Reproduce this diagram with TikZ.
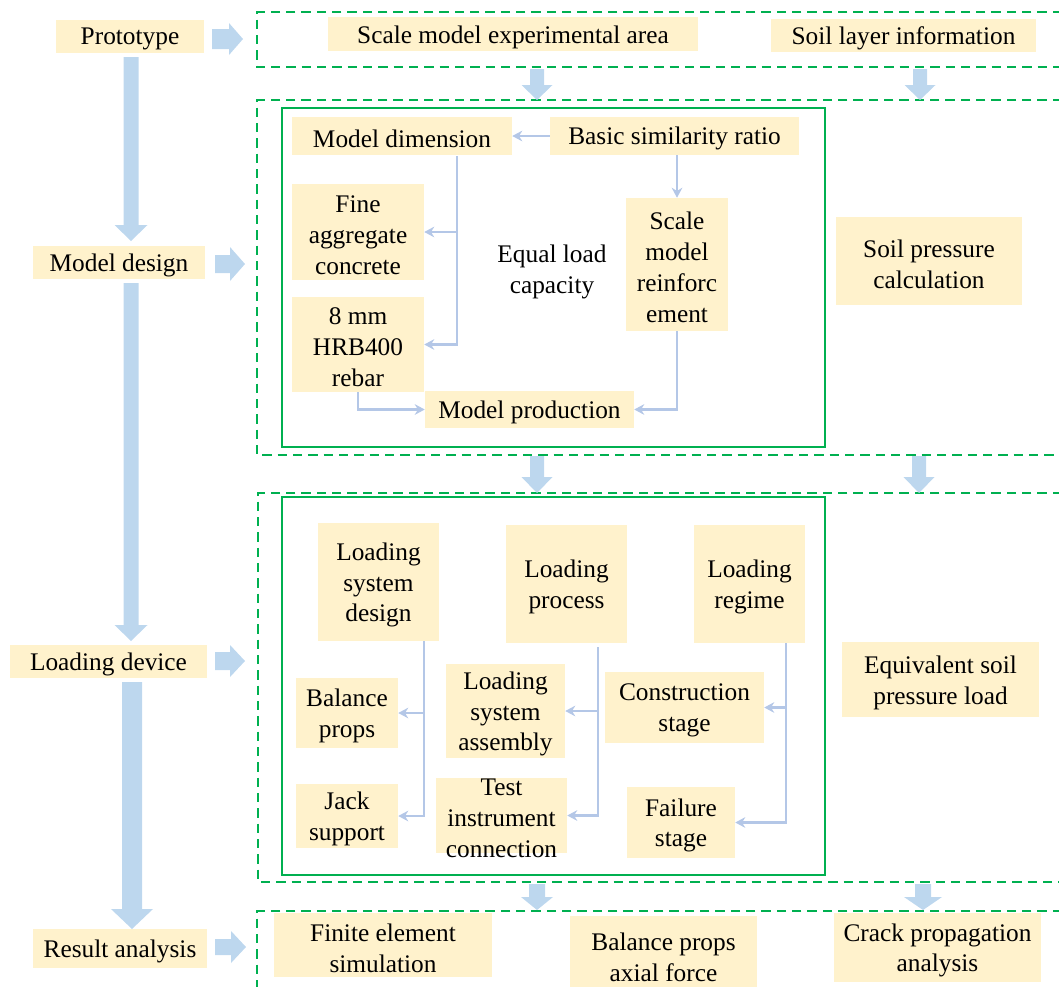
\documentclass[tikz,border=0pt]{standalone}
\usepackage{fontspec}
\setmainfont{Liberation Serif}
\usetikzlibrary{arrows.meta}
\definecolor{boxfill}{HTML}{FFF2CC}
\definecolor{blkcol}{HTML}{BDD7EE}
\definecolor{conncol}{HTML}{B4C7E7}
\definecolor{grn}{HTML}{00B050}
\newcommand\mybox[6]{\node[box, minimum width={(#4-#2)*0.75pt}, minimum height={(#5-#3)*0.75pt}] (#1) at ({(#2+#4)/2},{(#3+#5)/2}) {};
  \node[boxtext] (#1-t) at ([yshift=-2.2pt]#1.center) {#6};}
\newcommand\blkdown[6]{\fill[blkcol] ({#1-#4},#2) -- ({#1+#4},#2) -- ({#1+#4},{#3-#6}) -- ({#1+#5},{#3-#6}) -- (#1,#3) -- ({#1-#5},{#3-#6}) -- ({#1-#4},{#3-#6}) -- cycle;}
\newcommand\blkright[6]{\fill[blkcol] (#1,{#3-#4}) -- ({#2-#6},{#3-#4}) -- ({#2-#6},{#3-#5}) -- (#2,#3) -- ({#2-#6},{#3+#5}) -- ({#2-#6},{#3+#4}) -- (#1,{#3+#4}) -- cycle;}
\tikzset{
  box/.style={fill=boxfill, inner sep=0pt},
  boxtext/.style={inner sep=0pt, align=center},
  conn/.style={draw=conncol, line width=2.2pt, -{Stealth[length=7.5pt,width=8pt]}},
  dashbox/.style={draw=grn, line width=1.5pt, dash pattern=on 7pt off 4.5pt},
  solidbox/.style={draw=grn, line width=1.5pt},
}
\begin{document}
\begin{tikzpicture}[x=0.75pt,y=-0.75pt,font=\fontsize{19}{23.2}\selectfont]
\useasboundingbox (0,0) rectangle (1059,986);
% dashed containers
\draw[dashbox] (1062,12) -- (257,12) -- (257,67) -- (1062,67);
\draw[dashbox] (1062,100) -- (257,100) -- (257,455) -- (1062,455);
\draw[dashbox] (1062,493) -- (258,493) -- (258,882) -- (1062,882);
\draw[dashbox] (1062,911) -- (257,911) -- (257,992);
% inner solid boxes
\draw[solidbox] (282,108) rectangle (825,447);
\draw[solidbox] (282,497) rectangle (825,875);
% left column
\mybox{proto}{56}{20}{204}{53}{Prototype}
\mybox{mdesign}{33}{246}{205}{279}{Model design}
\mybox{ldevice}{10}{645}{207}{678}{Loading device}
\mybox{result}{33}{929}{207}{968}{Result analysis}
% big arrows
\blkdown{131}{57}{241}{7.5}{16.5}{16}
\blkdown{131}{283}{641}{7.5}{16.5}{16}
\blkdown{132}{682}{929}{10}{21}{20}
\blkright{212}{243}{39}{10}{16}{14}
\blkright{215}{245}{264}{9}{17}{15}
\blkright{215}{245}{661}{9}{16}{15}
\blkright{215}{246}{947}{8}{16}{15}
% between containers
\blkdown{537}{69}{100}{7}{15.5}{15}
\blkdown{920}{69}{100}{7}{15.5}{15}
\blkdown{537}{456}{493}{7}{15.5}{16}
\blkdown{919}{456}{493}{7}{15.5}{16}
\blkdown{537}{884}{910}{8}{16}{13}
\blkdown{923}{884}{910}{8}{19}{13}
% top row
\mybox{smea}{328}{17}{698}{51}{Scale model experimental area}
\mybox{soil}{771}{19}{1036}{52}{Soil layer information}
% model design
\mybox{mdim}{292}{117}{512}{155}{Model dimension}
\mybox{bsr}{550}{117}{799}{155}{Basic similarity ratio}
\mybox{fac}{292}{184}{424}{280}{Fine\\aggregate\\concrete}
\mybox{rebar}{292}{297}{424}{392}{8 mm\\HRB400\\rebar}
\node[boxtext] (elc) at (552,272) {Equal load\\capacity};
\mybox{smr}{626}{198}{728}{331}{Scale\\model\\reinforc\\ement}
\mybox{mprod}{425}{391}{634}{428}{Model production}
\mybox{spc}{836}{217}{1022}{305}{Soil pressure\\calculation}
\coordinate (mdimx) at (457,156);
\draw[conn] (bsr.west) -- (mdim.east);
\draw[conn] (mdimx) |- (fac.east);
\draw[conn] (mdimx) |- (rebar.east);
\draw[conn] (bsr.south -| smr.north) -- (smr.north);
\draw[conn] (smr.south) |- (mprod.east);
\draw[conn] (rebar.south) |- (mprod.west);
% loading device
\mybox{lsd}{318}{523}{439}{641}{Loading\\system\\design}
\mybox{lp}{506}{525}{627}{643}{Loading\\process}
\mybox{lr}{694}{525}{805}{643}{Loading\\regime}
\mybox{bp}{296}{678}{398}{748}{Balance\\props}
\mybox{js}{296}{784}{398}{848}{Jack\\support}
\mybox{lsa}{446}{664}{565}{758}{Loading\\system\\assembly}
\mybox{tic}{436}{778}{567}{853}{Test\\instrument\\connection}
\mybox{cs}{605}{672}{764}{743}{Construction\\stage}
\mybox{fs}{627}{787}{735}{858}{Failure\\stage}
\mybox{espl}{842}{642}{1039}{717}{Equivalent soil\\pressure load}
\coordinate (lsdx) at (424,641);
\coordinate (lpx) at (598,647);
\coordinate (lrx) at (786,643);
\draw[conn] (lsdx) |- (bp.east);
\draw[conn] (lsdx) |- (js.east);
\draw[conn] (lpx) |- (lsa.east);
\draw[conn] (lpx) |- (tic.east);
\draw[conn] (lrx) |- (cs.east);
\draw[conn] (lrx) |- (fs.east);
% result analysis
\mybox{fes}{274}{913}{492}{977}{Finite element\\simulation}
\mybox{bpaf}{570}{916}{757}{992}{Balance props\\axial force}
\mybox{cpa}{834}{913}{1041}{982}{Crack propagation\\analysis}
\end{tikzpicture}
\end{document}
